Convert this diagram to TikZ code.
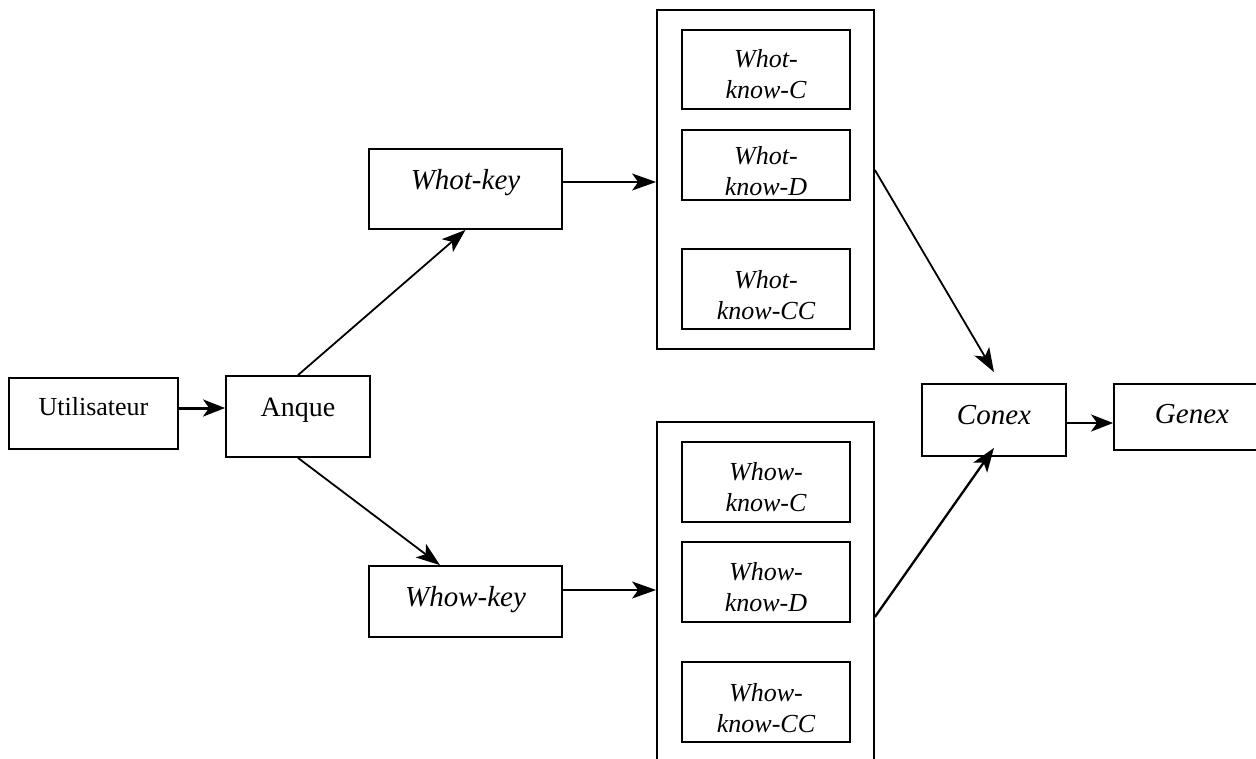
\documentclass[tikz,border=0pt]{standalone}
\usepackage{fontspec}
\setmainfont{Liberation Serif}
\usetikzlibrary{arrows.meta}
\begin{document}
\begin{tikzpicture}[x=1pt,y=-1pt,
  box/.style={draw,line width=1.8pt,inner sep=0pt,align=center,
    text height=10pt,text depth=10pt},
  drop/.style={text height=10pt+#1,text depth=10pt-#1},
  frame/.style={draw,line width=1.8pt,inner sep=0pt},
  twoline/.style={inner sep=0pt,align=center,
    font=\fontsize{26}{31}\selectfont\itshape},
  link/.style={line width=1.8pt,-{Stealth[length=24pt,width=17pt,inset=6pt]}},
  boldlink/.style={line width=3pt,-{Stealth[length=22pt,width=17pt,inset=6pt]}},
  up/.style={font=\fontsize{26}{30}\selectfont},
  big/.style={font=\fontsize{28}{32}\selectfont},
  bigit/.style={font=\fontsize{29}{33}\selectfont\itshape}]
\clip (0,0) rectangle (1256,758);
\fill[white] (0,0) rectangle (1256,758);

% entry chain
\node[box,up,drop=2pt,minimum width=169pt,minimum height=71pt] (user) at (93.5,413.5) {Utilisateur};
\node[box,big,minimum width=144pt,minimum height=81pt] (anque) at (298,416.5) {Anque};

% the two key boxes
\node[box,bigit,minimum width=193pt,minimum height=80pt] (whotkey) at (465.5,189) {Whot-key};
\node[box,bigit,drop=5pt,minimum width=193pt,minimum height=71pt] (whowkey) at (465.5,601.5) {Whow-key};

% upper group
\node[frame,minimum width=217pt,minimum height=339pt] (topbox) at (765.5,179.5) {};
\node[frame,minimum width=168pt,minimum height=79pt] (tc) at (766,69.5) {};
\node[frame,minimum width=168pt,minimum height=70pt] (td) at (766,165) {};
\node[frame,minimum width=168pt,minimum height=80pt] (tcc) at (766,289) {};
\node[twoline] (tct) at ([yshift=-5pt]tc.center) {Whot-\\know-C};
\node[twoline] (tdt) at ([yshift=-6pt]td.center) {Whot-\\know-D};
\node[twoline] (tcct) at ([yshift=-6pt]tcc.center) {Whot-\\know-CC};

% lower group
\node[frame,minimum width=217pt,minimum height=378pt] (botbox) at (765.5,611) {};
\node[frame,minimum width=168pt,minimum height=80pt] (bc) at (766,482) {};
\node[frame,minimum width=168pt,minimum height=80pt] (bd) at (766,582) {};
\node[frame,minimum width=168pt,minimum height=80pt] (bcc) at (766,702) {};
\node[twoline] (bct) at ([yshift=-5pt]bc.center) {Whow-\\know-C};
\node[twoline] (bdt) at ([yshift=-5pt]bd.center) {Whow-\\know-D};
\node[twoline] (bcct) at ([yshift=-6pt]bcc.center) {Whow-\\know-CC};

% output chain
\node[box,bigit,drop=4pt,minimum width=144pt,minimum height=72pt] (conex) at (994,420) {Conex};
\node[box,bigit,drop=6pt,minimum width=156pt,minimum height=66pt] (genex) at (1192,417) {Genex};

% connectors
\draw[boldlink] ([yshift=5.5pt]user.east) -- ([yshift=5.5pt]user.east -| anque.west);
\draw[link] (anque.north) -- (whotkey.south);
\draw[link] (anque.south) -- ([xshift=-25.5pt]whowkey.north);
\draw[link] ([yshift=7pt]whotkey.east) -- ([yshift=7pt]whotkey.east -| topbox.west);
\draw[link] ([yshift=11.5pt]whowkey.east) -- ([yshift=11.5pt]whowkey.east -| botbox.west);
\draw[link] ([yshift=9.5pt]topbox.east) -- ([yshift=11pt]conex.north);
\draw[link,line width=2.3pt] ([yshift=-6pt]botbox.east) -- ([yshift=9pt]conex.south);
\draw[boldlink,line width=2.6pt] ([yshift=-3pt]conex.east) -- ([yshift=-3pt]conex.east -| genex.west);
\end{tikzpicture}
\end{document}
